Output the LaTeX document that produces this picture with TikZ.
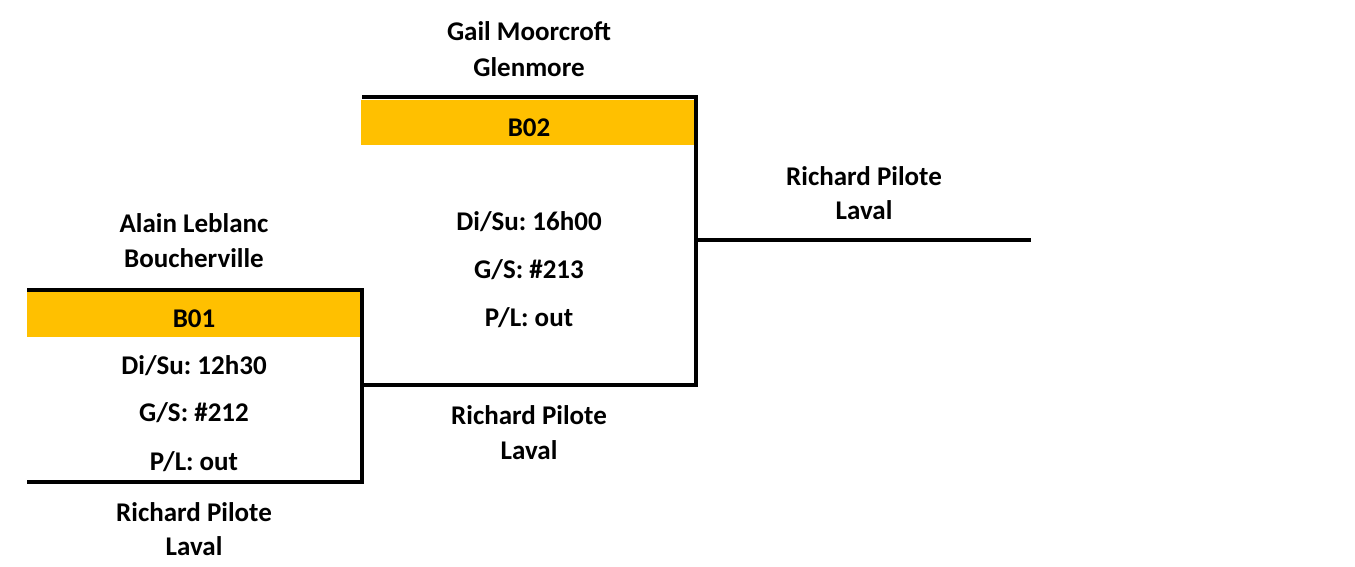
\documentclass[tikz,border=0pt]{standalone}
\usepackage{fontspec}
\setmainfont{Carlito}
\frenchspacing
\definecolor{bandorange}{HTML}{FFC000}
\begin{document}
\begin{tikzpicture}[x=1pt,y=-1pt,
  txt/.style={anchor=base,inner sep=0pt,font=\fontsize{27}{32}\selectfont\bfseries},
  band/.style={fill=bandorange,draw=none,inner sep=0pt,anchor=north west},
  bline/.style={line width=4pt,line join=miter}]
\useasboundingbox (0,0) rectangle (1355,566);
% orange bands
\node[band,minimum width=333pt,minimum height=45pt] (band1) at (27,292) {};
\node[band,minimum width=334pt,minimum height=45pt] (band2) at (361,100) {};
% bracket corner points
\coordinate (a1) at (27,290);
\coordinate (a2) at (362,290);
\coordinate (a3) at (362,482);
\coordinate (a4) at (27,482);
\coordinate (b1) at (362,97);
\coordinate (b2) at (696,97);
\coordinate (b3) at (696,385);
\coordinate (b4) at (362,385);
\coordinate (c1) at (696,240);
\coordinate (c2) at (1031,240);
\draw[bline] (a1) -- (a2) -- (a3) -- (a4);
\draw[bline] (b1) -- (b2) -- (b3) -- (b4);
\draw[bline] (c1) -- (c2);
% texts B01
\node[txt] (p1n) at (194,232) {Alain Leblanc};
\node[txt] (p1c) at (194,267) {Boucherville};
\node[txt] (g1) at (194,327) {B01};
\node[txt] (g1t) at (194,374) {Di/Su: 12h30};
\node[txt] (g1s) at (194,421) {G/S: \#212};
\node[txt] (g1p) at (194,470) {P/L: out};
\node[txt] (p2n) at (194,521) {Richard Pilote};
\node[txt] (p2c) at (194,555) {Laval};
% texts B02
\node[txt] (p3n) at (529,40) {Gail Moorcroft};
\node[txt] (p3c) at (529,76) {Glenmore};
\node[txt] (g2) at (529,136) {B02};
\node[txt] (g2t) at (529,230) {Di/Su: 16h00};
\node[txt] (g2s) at (529,278) {G/S: \#213};
\node[txt] (g2p) at (529,326) {P/L: out};
\node[txt] (p4n) at (529,424) {Richard Pilote};
\node[txt] (p4c) at (529,459) {Laval};
% winner
\node[txt] (p5n) at (864,185) {Richard Pilote};
\node[txt] (p5c) at (864,219) {Laval};
\end{tikzpicture}
\end{document}
